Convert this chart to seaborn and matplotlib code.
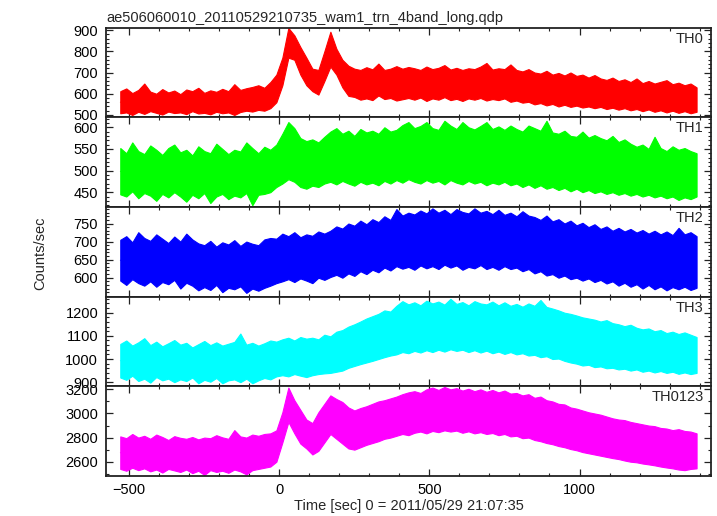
import numpy as np
import pandas as pd
import matplotlib
matplotlib.use("Agg")
import matplotlib.pyplot as plt
from matplotlib.ticker import AutoMinorLocator, MultipleLocator, FixedLocator
import seaborn as sns

# time bins (sec from 2011/05/29 21:07:35), 20 s steps
time_sec = list(range(-530, 1391, 20))

# lower / upper envelope of each light curve
th0_lo = [508, 512, 500, 515, 505, 518, 510, 502, 516, 509, 512, 504, 518, 507, 510, 503, 515, 508, 512, 500,
          514, 520, 516, 524, 520, 532, 560, 640, 770, 760, 690, 640, 612, 596, 660, 728, 690, 630, 590, 585,
          572, 578, 570, 592, 575, 580, 568, 574, 580, 572, 582, 566, 578, 572, 584, 570, 576, 566, 578, 572,
          580, 568, 575, 570, 578, 562, 568, 558, 562, 550, 556, 545, 552, 540, 548, 538, 544, 535, 540, 532,
          538, 528, 534, 525, 532, 522, 528, 518, 526, 515, 522, 512, 520, 510, 518, 508, 515]
th0_hi = [612, 625, 603, 618, 648, 610, 600, 622, 606, 615, 598, 620, 612, 628, 604, 616, 609, 623, 612, 645,
          618, 626, 632, 640, 628, 655, 690, 770, 910, 875, 820, 770, 718, 712, 800, 892, 812, 760, 732, 718,
          712, 725, 715, 742, 712, 718, 730, 718, 726, 720, 712, 728, 716, 722, 735, 714, 722, 712, 720, 716,
          728, 745, 714, 720, 716, 738, 712, 705, 716, 700, 695, 708, 690, 698, 686, 700, 684, 690, 676, 688,
          672, 665, 676, 660, 668, 655, 672, 650, 660, 648, 656, 664, 645, 652, 640, 648, 630]

th1_lo = [445, 440, 452, 436, 448, 442, 430, 446, 438, 450, 440, 428, 444, 436, 448, 425, 440, 446, 434, 442,
          438, 448, 420, 444, 446, 450, 462, 470, 480, 474, 462, 458, 465, 462, 470, 474, 468, 476, 470, 465,
          474, 468, 472, 466, 476, 470, 478, 472, 480, 474, 470, 478, 472, 476, 468, 478, 472, 468, 476, 470,
          474, 466, 472, 468, 474, 466, 470, 462, 468, 460, 466, 458, 462, 455, 460, 452, 458, 450, 455, 448,
          452, 446, 450, 444, 448, 442, 446, 440, 444, 438, 442, 436, 440, 432, 438, 434, 440]
th1_hi = [552, 540, 565, 545, 538, 558, 548, 536, 552, 560, 542, 548, 535, 556, 545, 540, 562, 550, 538, 548,
          544, 565, 552, 540, 555, 548, 560, 585, 612, 598, 575, 568, 572, 565, 578, 590, 598, 585, 592, 580,
          596, 588, 592, 585, 600, 590, 594, 605, 612, 598, 603, 612, 598, 594, 615, 604, 596, 612, 600, 595,
          603, 612, 596, 602, 594, 604, 596, 590, 604, 598, 592, 615, 588, 585, 592, 580, 578, 590, 576, 582,
          575, 570, 580, 566, 572, 562, 555, 560, 550, 578, 552, 545, 556, 548, 552, 545, 540]

th2_lo = [592, 580, 596, 585, 578, 590, 575, 588, 582, 594, 570, 586, 578, 565, 574, 566, 580, 560, 572, 568,
          576, 558, 570, 564, 572, 578, 585, 590, 596, 588, 598, 592, 585, 600, 594, 602, 608, 600, 612, 605,
          618, 610, 622, 615, 628, 620, 632, 625, 630, 622, 634, 626, 632, 624, 636, 628, 634, 622, 630, 626,
          635, 624, 630, 622, 632, 624, 628, 618, 624, 612, 618, 606, 610, 600, 606, 596, 600, 592, 598, 588,
          594, 584, 590, 578, 586, 575, 582, 570, 580, 568, 576, 565, 574, 568, 575, 566, 572]
th2_hi = [705, 715, 698, 726, 710, 702, 720, 708, 696, 714, 700, 722, 706, 695, 690, 702, 686, 698, 692, 704,
          688, 700, 694, 690, 706, 710, 708, 722, 715, 726, 712, 720, 716, 728, 722, 730, 742, 736, 750, 744,
          758, 748, 762, 754, 770, 760, 790, 772, 780, 775, 786, 778, 792, 780, 788, 776, 790, 782, 778, 792,
          780, 785, 776, 788, 774, 780, 770, 784, 772, 768, 760, 772, 756, 762, 750, 758, 745, 752, 740, 748,
          735, 742, 730, 738, 728, 735, 725, 732, 722, 730, 720, 728, 718, 738, 720, 726, 715]

th3_lo = [920, 910, 928, 905, 915, 898, 922, 908, 915, 900, 912, 905, 920, 895, 910, 902, 918, 895, 908, 912,
          900, 915, 895, 908, 918, 912, 925, 930, 925, 935, 928, 922, 930, 935, 938, 940, 945, 950, 962, 970,
          978, 985, 992, 1000, 1008, 1015, 1020, 1030, 1025, 1035, 1028, 1038, 1030, 1040, 1032, 1042, 1035, 1040,
          1030, 1038, 1028, 1036, 1025, 1032, 1022, 1030, 1020, 1025, 1015, 1018, 1008, 1012, 1000, 1002, 992, 985,
          980, 972, 975, 965, 968, 960, 962, 955, 958, 950, 955, 945, 950, 942, 948, 940, 945, 936, 942, 935, 940]
th3_hi = [1065, 1080, 1058, 1072, 1090, 1060, 1075, 1055, 1068, 1082, 1062, 1070, 1050, 1064, 1078, 1060, 1072,
          1058, 1066, 1074, 1110, 1062, 1070, 1058, 1068, 1080, 1075, 1085, 1092, 1080, 1095, 1088, 1092, 1085,
          1105, 1098, 1118, 1125, 1140, 1150, 1162, 1175, 1185, 1195, 1210, 1205, 1230, 1250, 1236, 1245, 1232,
          1252, 1240, 1248, 1235, 1260, 1238, 1246, 1232, 1250, 1240, 1236, 1248, 1232, 1245, 1230, 1238, 1226,
          1240, 1230, 1255, 1225, 1218, 1210, 1200, 1195, 1188, 1180, 1175, 1170, 1162, 1168, 1155, 1150, 1142,
          1148, 1135, 1128, 1132, 1120, 1125, 1112, 1118, 1108, 1115, 1105, 1095]

th0123_lo = [2540, 2525, 2550, 2530, 2545, 2520, 2535, 2510, 2540, 2528, 2515, 2535, 2505, 2525, 2490, 2530, 2515,
             2525, 2508, 2535, 2520, 2495, 2530, 2540, 2550, 2560, 2600, 2760, 2930, 2835, 2750, 2710, 2660, 2690,
             2760, 2830, 2790, 2750, 2710, 2700, 2720, 2740, 2755, 2770, 2790, 2800, 2815, 2830, 2820, 2840, 2850,
             2835, 2855, 2845, 2860, 2850, 2858, 2840, 2852, 2835, 2845, 2830, 2838, 2820, 2830, 2810, 2815, 2795,
             2800, 2780, 2770, 2755, 2745, 2730, 2720, 2705, 2695, 2680, 2670, 2660, 2650, 2640, 2630, 2622, 2610,
             2600, 2595, 2585, 2578, 2570, 2560, 2552, 2545, 2535, 2530, 2540, 2545]
th0123_hi = [2810, 2795, 2830, 2800, 2815, 2790, 2825, 2805, 2780, 2812, 2798, 2790, 2805, 2785, 2800, 2795, 2820,
             2802, 2790, 2862, 2810, 2800, 2825, 2815, 2830, 2835, 2860, 3010, 3215, 3110, 3030, 2950, 2920, 3010,
             3080, 3150, 3120, 3095, 3050, 3025, 3045, 3060, 3080, 3100, 3110, 3125, 3140, 3160, 3175, 3185, 3170,
             3200, 3215, 3195, 3220, 3200, 3210, 3190, 3205, 3185, 3200, 3180, 3195, 3175, 3190, 3165, 3170, 3150,
             3160, 3130, 3140, 3110, 3100, 3080, 3075, 3050, 3040, 3025, 3010, 3000, 2990, 2975, 2960, 2950, 2945,
             2930, 2920, 2910, 2900, 2895, 2880, 2875, 2862, 2870, 2855, 2850, 2835]

bands = ["TH0", "TH1", "TH2", "TH3", "TH0123"]
lows = [th0_lo, th1_lo, th2_lo, th3_lo, th0123_lo]
highs = [th0_hi, th1_hi, th2_hi, th3_hi, th0123_hi]
colors = ["#ff0000", "#00ff00", "#0000ff", "#00ffff", "#ff00ff"]
ylims = [(489, 911), (416, 623), (548, 796), (883, 1270), (2484, 3227)]
yticks = [[500, 600, 700, 800, 900], [450, 500, 550, 600], [600, 650, 700, 750],
          [900, 1000, 1100, 1200], [2600, 2800, 3000, 3200]]
yminor = [5, 5, 5, 5, 2]

for lo, hi in zip(lows, highs):
    assert len(lo) == len(time_sec) and len(hi) == len(time_sec), (len(lo), len(hi))

sns.set_style("ticks")
plt.rcParams["font.family"] = ["Liberation Sans", "DejaVu Sans"]
plt.rcParams["font.size"] = 10.5

fig, axes = plt.subplots(5, 1, sharex=True, figsize=(7.17, 5.16), dpi=100)
fig.subplots_adjust(left=0.1485, right=0.9916, top=0.9463, bottom=0.0781, hspace=0)

for ax, name, lo, hi, col, yl, tks, mnr in zip(axes, bands, lows, highs, colors, ylims, yticks, yminor):
    df = pd.DataFrame({
        "time": time_sec + time_sec,
        "rate": lo + hi,
    })
    # band from min to max of each bin = the noisy light curve envelope
    sns.lineplot(data=df, x="time", y="rate", ax=ax, estimator="mean",
                 errorbar=("pi", 100), color=col, lw=0.6,
                 err_kws=dict(alpha=1, facecolor=col, edgecolor=col, lw=0.8))
    ax.set_ylim(*yl)
    ax.set_xlim(-576, 1438)
    ax.yaxis.set_major_locator(FixedLocator(tks))
    ax.yaxis.set_minor_locator(MultipleLocator((tks[1] - tks[0]) / mnr))
    ax.xaxis.set_major_locator(MultipleLocator(500))
    ax.xaxis.set_minor_locator(AutoMinorLocator(5))
    ax.tick_params(which="both", direction="in", top=True, right=True, colors="#222222",
                   labelcolor="black", labelsize=10.5)
    ax.tick_params(which="major", length=5, width=0.9, pad=6)
    ax.tick_params(which="minor", length=2.5, width=0.8)
    for s in ax.spines.values():
        s.set_color("#222222")
        s.set_linewidth(1.3)
    ax.set_xlabel("")
    ax.set_ylabel("")
    ax.text(0.988, 0.955, name, transform=ax.transAxes, ha="right", va="top", fontsize=10.5)

axes[-1].set_xlabel("Time [sec] 0 = 2011/05/29 21:07:35", fontsize=10.5, labelpad=2)
axes[-1].tick_params(axis="x", pad=5)
fig.text(0.056, 0.51, "Counts/sec", rotation=90, ha="center", va="center", fontsize=10.5)
axes[0].set_title("ae506060010_20110529210735_wam1_trn_4band_long.qdp", loc="left",
                  fontsize=10.5, pad=4)

fig.savefig("out.png", dpi=100)
